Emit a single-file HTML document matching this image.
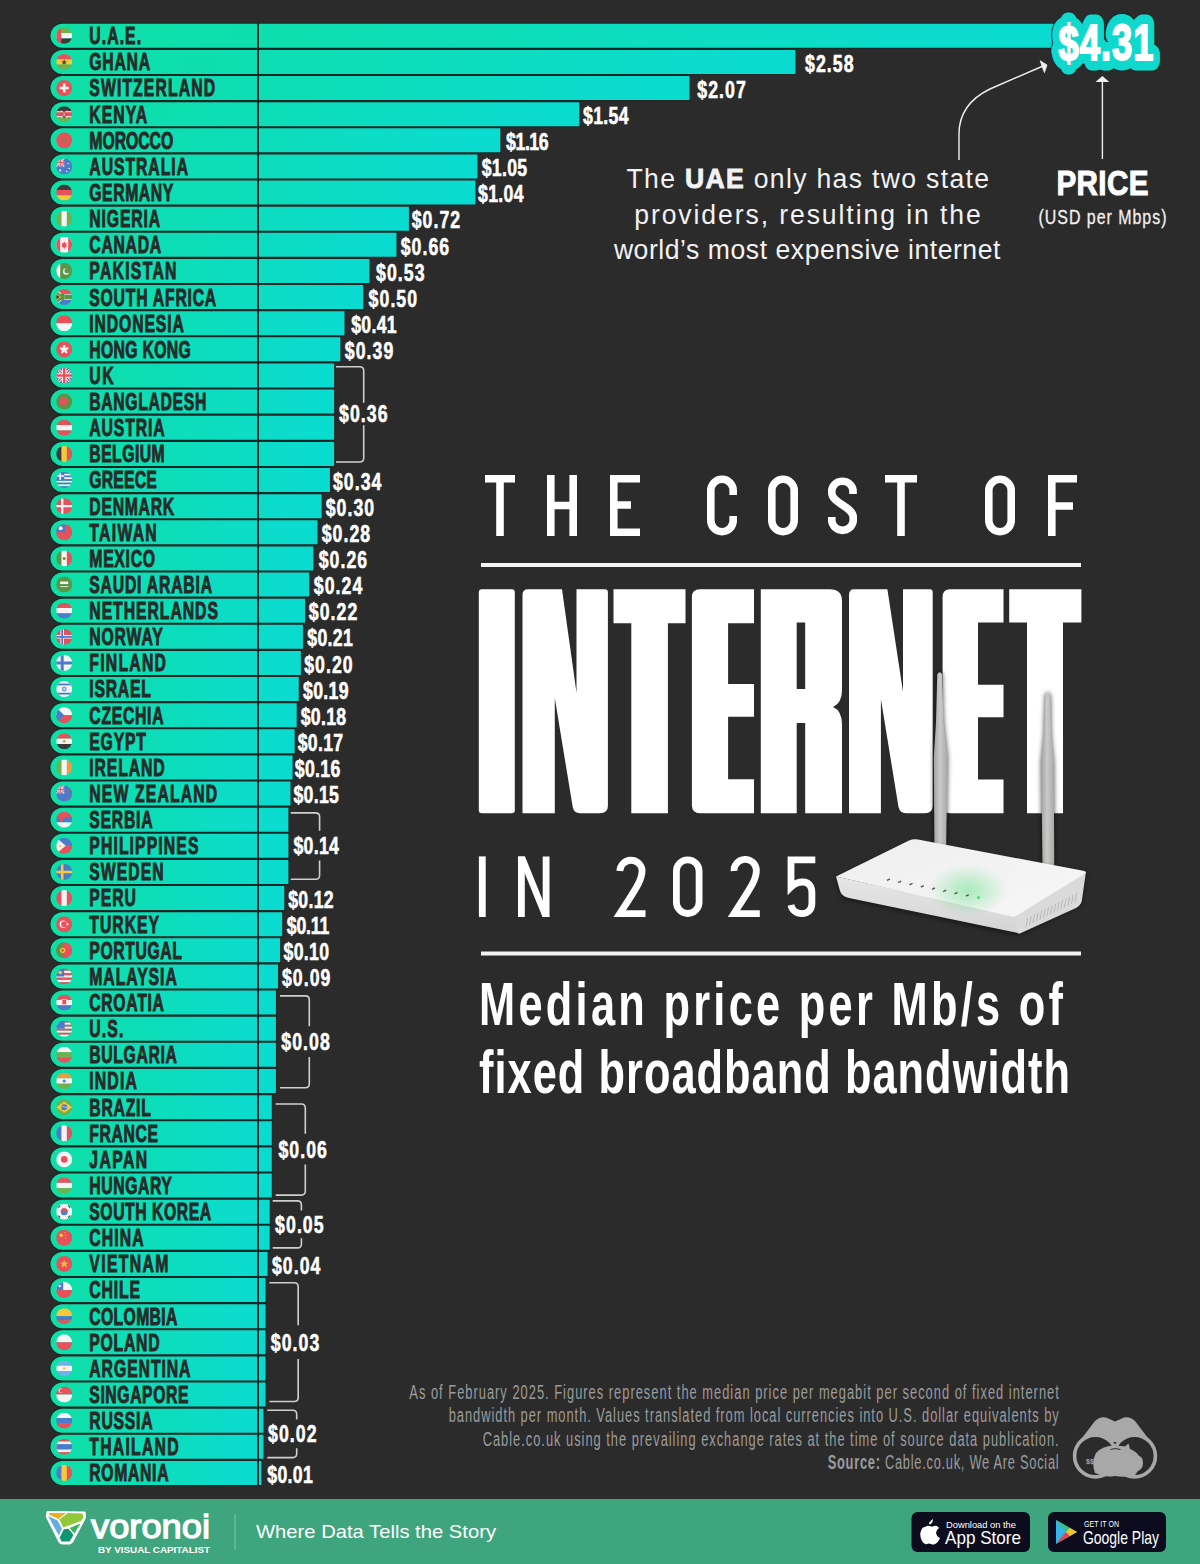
<!DOCTYPE html><html><head><meta charset="utf-8"><style>html,body{margin:0;padding:0;background:#2b2b2b;width:1200px;height:1564px;overflow:hidden}svg{display:block}</style></head><body><svg width="1200" height="1564" viewBox="0 0 1200 1564" font-family="'Liberation Sans', sans-serif"><defs><linearGradient id="bg" x1="0" x2="1" y1="0" y2="0"><stop offset="0" stop-color="#0fdfa5"/><stop offset="1" stop-color="#0adbd2"/></linearGradient><clipPath id="fc"><circle cx="0" cy="0" r="8"/></clipPath></defs><rect width="1200" height="1564" fill="#2b2b2b"/><path d="M62.5,22.70H1063.10V48.90H62.5A13.1,13.1 0 0 1 62.5,22.70Z" fill="#1b2724"/><path d="M62.5,48.83H796.52V75.03H62.5A13.1,13.1 0 0 1 62.5,48.83Z" fill="#1b2724"/><path d="M62.5,74.96H690.55V101.16H62.5A13.1,13.1 0 0 1 62.5,74.96Z" fill="#1b2724"/><path d="M62.5,101.09H580.41V127.29H62.5A13.1,13.1 0 0 1 62.5,101.09Z" fill="#1b2724"/><path d="M62.5,127.22H501.45V153.42H62.5A13.1,13.1 0 0 1 62.5,127.22Z" fill="#1b2724"/><path d="M62.5,153.35H478.59V179.55H62.5A13.1,13.1 0 0 1 62.5,153.35Z" fill="#1b2724"/><path d="M62.5,179.48H476.51V205.68H62.5A13.1,13.1 0 0 1 62.5,179.48Z" fill="#1b2724"/><path d="M62.5,205.61H410.02V231.81H62.5A13.1,13.1 0 0 1 62.5,205.61Z" fill="#1b2724"/><path d="M62.5,231.74H397.55V257.94H62.5A13.1,13.1 0 0 1 62.5,231.74Z" fill="#1b2724"/><path d="M62.5,257.87H370.53V284.07H62.5A13.1,13.1 0 0 1 62.5,257.87Z" fill="#1b2724"/><path d="M62.5,284.00H364.30V310.20H62.5A13.1,13.1 0 0 1 62.5,284.00Z" fill="#1b2724"/><path d="M62.5,310.13H345.60V336.33H62.5A13.1,13.1 0 0 1 62.5,310.13Z" fill="#1b2724"/><path d="M62.5,336.26H341.44V362.46H62.5A13.1,13.1 0 0 1 62.5,336.26Z" fill="#1b2724"/><path d="M62.5,362.39H335.21V388.59H62.5A13.1,13.1 0 0 1 62.5,362.39Z" fill="#1b2724"/><path d="M62.5,388.52H335.21V414.72H62.5A13.1,13.1 0 0 1 62.5,388.52Z" fill="#1b2724"/><path d="M62.5,414.65H335.21V440.85H62.5A13.1,13.1 0 0 1 62.5,414.65Z" fill="#1b2724"/><path d="M62.5,440.78H335.21V466.98H62.5A13.1,13.1 0 0 1 62.5,440.78Z" fill="#1b2724"/><path d="M62.5,466.91H331.05V493.11H62.5A13.1,13.1 0 0 1 62.5,466.91Z" fill="#1b2724"/><path d="M62.5,493.04H322.74V519.24H62.5A13.1,13.1 0 0 1 62.5,493.04Z" fill="#1b2724"/><path d="M62.5,519.17H318.58V545.37H62.5A13.1,13.1 0 0 1 62.5,519.17Z" fill="#1b2724"/><path d="M62.5,545.30H314.43V571.50H62.5A13.1,13.1 0 0 1 62.5,545.30Z" fill="#1b2724"/><path d="M62.5,571.43H310.27V597.63H62.5A13.1,13.1 0 0 1 62.5,571.43Z" fill="#1b2724"/><path d="M62.5,597.56H306.12V623.76H62.5A13.1,13.1 0 0 1 62.5,597.56Z" fill="#1b2724"/><path d="M62.5,623.69H304.04V649.89H62.5A13.1,13.1 0 0 1 62.5,623.69Z" fill="#1b2724"/><path d="M62.5,649.82H301.96V676.02H62.5A13.1,13.1 0 0 1 62.5,649.82Z" fill="#1b2724"/><path d="M62.5,675.95H299.88V702.15H62.5A13.1,13.1 0 0 1 62.5,675.95Z" fill="#1b2724"/><path d="M62.5,702.08H297.80V728.28H62.5A13.1,13.1 0 0 1 62.5,702.08Z" fill="#1b2724"/><path d="M62.5,728.21H295.73V754.41H62.5A13.1,13.1 0 0 1 62.5,728.21Z" fill="#1b2724"/><path d="M62.5,754.34H293.65V780.54H62.5A13.1,13.1 0 0 1 62.5,754.34Z" fill="#1b2724"/><path d="M62.5,780.47H291.57V806.67H62.5A13.1,13.1 0 0 1 62.5,780.47Z" fill="#1b2724"/><path d="M62.5,806.60H289.49V832.80H62.5A13.1,13.1 0 0 1 62.5,806.60Z" fill="#1b2724"/><path d="M62.5,832.73H289.49V858.93H62.5A13.1,13.1 0 0 1 62.5,832.73Z" fill="#1b2724"/><path d="M62.5,858.86H289.49V885.06H62.5A13.1,13.1 0 0 1 62.5,858.86Z" fill="#1b2724"/><path d="M62.5,884.99H285.34V911.19H62.5A13.1,13.1 0 0 1 62.5,884.99Z" fill="#1b2724"/><path d="M62.5,911.12H283.26V937.32H62.5A13.1,13.1 0 0 1 62.5,911.12Z" fill="#1b2724"/><path d="M62.5,937.25H281.18V963.45H62.5A13.1,13.1 0 0 1 62.5,937.25Z" fill="#1b2724"/><path d="M62.5,963.38H279.10V989.58H62.5A13.1,13.1 0 0 1 62.5,963.38Z" fill="#1b2724"/><path d="M62.5,989.51H277.02V1015.71H62.5A13.1,13.1 0 0 1 62.5,989.51Z" fill="#1b2724"/><path d="M62.5,1015.64H277.02V1041.84H62.5A13.1,13.1 0 0 1 62.5,1015.64Z" fill="#1b2724"/><path d="M62.5,1041.77H277.02V1067.97H62.5A13.1,13.1 0 0 1 62.5,1041.77Z" fill="#1b2724"/><path d="M62.5,1067.90H277.02V1094.10H62.5A13.1,13.1 0 0 1 62.5,1067.90Z" fill="#1b2724"/><path d="M62.5,1094.03H272.87V1120.23H62.5A13.1,13.1 0 0 1 62.5,1094.03Z" fill="#1b2724"/><path d="M62.5,1120.16H272.87V1146.36H62.5A13.1,13.1 0 0 1 62.5,1120.16Z" fill="#1b2724"/><path d="M62.5,1146.29H272.87V1172.49H62.5A13.1,13.1 0 0 1 62.5,1146.29Z" fill="#1b2724"/><path d="M62.5,1172.42H272.87V1198.62H62.5A13.1,13.1 0 0 1 62.5,1172.42Z" fill="#1b2724"/><path d="M62.5,1198.55H270.79V1224.75H62.5A13.1,13.1 0 0 1 62.5,1198.55Z" fill="#1b2724"/><path d="M62.5,1224.68H270.79V1250.88H62.5A13.1,13.1 0 0 1 62.5,1224.68Z" fill="#1b2724"/><path d="M62.5,1250.81H268.71V1277.01H62.5A13.1,13.1 0 0 1 62.5,1250.81Z" fill="#1b2724"/><path d="M62.5,1276.94H266.63V1303.14H62.5A13.1,13.1 0 0 1 62.5,1276.94Z" fill="#1b2724"/><path d="M62.5,1303.07H266.63V1329.27H62.5A13.1,13.1 0 0 1 62.5,1303.07Z" fill="#1b2724"/><path d="M62.5,1329.20H266.63V1355.40H62.5A13.1,13.1 0 0 1 62.5,1329.20Z" fill="#1b2724"/><path d="M62.5,1355.33H266.63V1381.53H62.5A13.1,13.1 0 0 1 62.5,1355.33Z" fill="#1b2724"/><path d="M62.5,1381.46H266.63V1407.66H62.5A13.1,13.1 0 0 1 62.5,1381.46Z" fill="#1b2724"/><path d="M62.5,1407.59H264.56V1433.79H62.5A13.1,13.1 0 0 1 62.5,1407.59Z" fill="#1b2724"/><path d="M62.5,1433.72H264.56V1459.92H62.5A13.1,13.1 0 0 1 62.5,1433.72Z" fill="#1b2724"/><path d="M62.5,1459.85H262.48V1486.05H62.5A13.1,13.1 0 0 1 62.5,1459.85Z" fill="#1b2724"/><path d="M62.5,23.80H1062.00V47.80H62.5A12,12 0 0 1 62.5,23.80Z" fill="url(#bg)"/><path d="M62.5,49.93H795.42V73.93H62.5A12,12 0 0 1 62.5,49.93Z" fill="url(#bg)"/><path d="M62.5,76.06H689.45V100.06H62.5A12,12 0 0 1 62.5,76.06Z" fill="url(#bg)"/><path d="M62.5,102.19H579.31V126.19H62.5A12,12 0 0 1 62.5,102.19Z" fill="url(#bg)"/><path d="M62.5,128.32H500.35V152.32H62.5A12,12 0 0 1 62.5,128.32Z" fill="url(#bg)"/><path d="M62.5,154.45H477.49V178.45H62.5A12,12 0 0 1 62.5,154.45Z" fill="url(#bg)"/><path d="M62.5,180.58H475.41V204.58H62.5A12,12 0 0 1 62.5,180.58Z" fill="url(#bg)"/><path d="M62.5,206.71H408.92V230.71H62.5A12,12 0 0 1 62.5,206.71Z" fill="url(#bg)"/><path d="M62.5,232.84H396.45V256.84H62.5A12,12 0 0 1 62.5,232.84Z" fill="url(#bg)"/><path d="M62.5,258.97H369.43V282.97H62.5A12,12 0 0 1 62.5,258.97Z" fill="url(#bg)"/><path d="M62.5,285.10H363.20V309.10H62.5A12,12 0 0 1 62.5,285.10Z" fill="url(#bg)"/><path d="M62.5,311.23H344.50V335.23H62.5A12,12 0 0 1 62.5,311.23Z" fill="url(#bg)"/><path d="M62.5,337.36H340.34V361.36H62.5A12,12 0 0 1 62.5,337.36Z" fill="url(#bg)"/><path d="M62.5,363.49H334.11V387.49H62.5A12,12 0 0 1 62.5,363.49Z" fill="url(#bg)"/><path d="M62.5,389.62H334.11V413.62H62.5A12,12 0 0 1 62.5,389.62Z" fill="url(#bg)"/><path d="M62.5,415.75H334.11V439.75H62.5A12,12 0 0 1 62.5,415.75Z" fill="url(#bg)"/><path d="M62.5,441.88H334.11V465.88H62.5A12,12 0 0 1 62.5,441.88Z" fill="url(#bg)"/><path d="M62.5,468.01H329.95V492.01H62.5A12,12 0 0 1 62.5,468.01Z" fill="url(#bg)"/><path d="M62.5,494.14H321.64V518.14H62.5A12,12 0 0 1 62.5,494.14Z" fill="url(#bg)"/><path d="M62.5,520.27H317.48V544.27H62.5A12,12 0 0 1 62.5,520.27Z" fill="url(#bg)"/><path d="M62.5,546.40H313.33V570.40H62.5A12,12 0 0 1 62.5,546.40Z" fill="url(#bg)"/><path d="M62.5,572.53H309.17V596.53H62.5A12,12 0 0 1 62.5,572.53Z" fill="url(#bg)"/><path d="M62.5,598.66H305.02V622.66H62.5A12,12 0 0 1 62.5,598.66Z" fill="url(#bg)"/><path d="M62.5,624.79H302.94V648.79H62.5A12,12 0 0 1 62.5,624.79Z" fill="url(#bg)"/><path d="M62.5,650.92H300.86V674.92H62.5A12,12 0 0 1 62.5,650.92Z" fill="url(#bg)"/><path d="M62.5,677.05H298.78V701.05H62.5A12,12 0 0 1 62.5,677.05Z" fill="url(#bg)"/><path d="M62.5,703.18H296.70V727.18H62.5A12,12 0 0 1 62.5,703.18Z" fill="url(#bg)"/><path d="M62.5,729.31H294.63V753.31H62.5A12,12 0 0 1 62.5,729.31Z" fill="url(#bg)"/><path d="M62.5,755.44H292.55V779.44H62.5A12,12 0 0 1 62.5,755.44Z" fill="url(#bg)"/><path d="M62.5,781.57H290.47V805.57H62.5A12,12 0 0 1 62.5,781.57Z" fill="url(#bg)"/><path d="M62.5,807.70H288.39V831.70H62.5A12,12 0 0 1 62.5,807.70Z" fill="url(#bg)"/><path d="M62.5,833.83H288.39V857.83H62.5A12,12 0 0 1 62.5,833.83Z" fill="url(#bg)"/><path d="M62.5,859.96H288.39V883.96H62.5A12,12 0 0 1 62.5,859.96Z" fill="url(#bg)"/><path d="M62.5,886.09H284.24V910.09H62.5A12,12 0 0 1 62.5,886.09Z" fill="url(#bg)"/><path d="M62.5,912.22H282.16V936.22H62.5A12,12 0 0 1 62.5,912.22Z" fill="url(#bg)"/><path d="M62.5,938.35H280.08V962.35H62.5A12,12 0 0 1 62.5,938.35Z" fill="url(#bg)"/><path d="M62.5,964.48H278.00V988.48H62.5A12,12 0 0 1 62.5,964.48Z" fill="url(#bg)"/><path d="M62.5,990.61H275.92V1014.61H62.5A12,12 0 0 1 62.5,990.61Z" fill="url(#bg)"/><path d="M62.5,1016.74H275.92V1040.74H62.5A12,12 0 0 1 62.5,1016.74Z" fill="url(#bg)"/><path d="M62.5,1042.87H275.92V1066.87H62.5A12,12 0 0 1 62.5,1042.87Z" fill="url(#bg)"/><path d="M62.5,1069.00H275.92V1093.00H62.5A12,12 0 0 1 62.5,1069.00Z" fill="url(#bg)"/><path d="M62.5,1095.13H271.77V1119.13H62.5A12,12 0 0 1 62.5,1095.13Z" fill="url(#bg)"/><path d="M62.5,1121.26H271.77V1145.26H62.5A12,12 0 0 1 62.5,1121.26Z" fill="url(#bg)"/><path d="M62.5,1147.39H271.77V1171.39H62.5A12,12 0 0 1 62.5,1147.39Z" fill="url(#bg)"/><path d="M62.5,1173.52H271.77V1197.52H62.5A12,12 0 0 1 62.5,1173.52Z" fill="url(#bg)"/><path d="M62.5,1199.65H269.69V1223.65H62.5A12,12 0 0 1 62.5,1199.65Z" fill="url(#bg)"/><path d="M62.5,1225.78H269.69V1249.78H62.5A12,12 0 0 1 62.5,1225.78Z" fill="url(#bg)"/><path d="M62.5,1251.91H267.61V1275.91H62.5A12,12 0 0 1 62.5,1251.91Z" fill="url(#bg)"/><path d="M62.5,1278.04H265.53V1302.04H62.5A12,12 0 0 1 62.5,1278.04Z" fill="url(#bg)"/><path d="M62.5,1304.17H265.53V1328.17H62.5A12,12 0 0 1 62.5,1304.17Z" fill="url(#bg)"/><path d="M62.5,1330.30H265.53V1354.30H62.5A12,12 0 0 1 62.5,1330.30Z" fill="url(#bg)"/><path d="M62.5,1356.43H265.53V1380.43H62.5A12,12 0 0 1 62.5,1356.43Z" fill="url(#bg)"/><path d="M62.5,1382.56H265.53V1406.56H62.5A12,12 0 0 1 62.5,1382.56Z" fill="url(#bg)"/><path d="M62.5,1408.69H263.46V1432.69H62.5A12,12 0 0 1 62.5,1408.69Z" fill="url(#bg)"/><path d="M62.5,1434.82H263.46V1458.82H62.5A12,12 0 0 1 62.5,1434.82Z" fill="url(#bg)"/><path d="M62.5,1460.95H261.38V1484.95H62.5A12,12 0 0 1 62.5,1460.95Z" fill="url(#bg)"/><rect x="257.2" y="23" width="1.8" height="1463" fill="#1b2724"/><g transform="translate(64.2,35.80)" clip-path="url(#fc)"><rect x="-8" y="-8.00" width="16" height="5.38" fill="#72b04f"/><rect x="-8" y="-2.67" width="16" height="5.38" fill="#f4f4f4"/><rect x="-8" y="2.67" width="16" height="5.38" fill="#3a3a3a"/><rect x="-8" y="-8" width="5" height="16" fill="#e8505b"/></g><text transform="translate(89.30,44.20) scale(0.64,1)" font-size="24.6" textLength="80.94" lengthAdjust="spacing" font-weight="700" fill="#262a28" stroke="#262a28" stroke-width="1.0">U.A.E.</text><g transform="translate(64.2,61.93)" clip-path="url(#fc)"><rect x="-8" y="-8.00" width="16" height="5.38" fill="#e8505b"/><rect x="-8" y="-2.67" width="16" height="5.38" fill="#f6c83a"/><rect x="-8" y="2.67" width="16" height="5.38" fill="#72b04f"/><path d="M0,-2.6L0.8,-0.5L2.9,-0.5L1.2,0.8L1.8,2.8L0,1.6L-1.8,2.8L-1.2,0.8L-2.9,-0.5L-0.8,-0.5Z" fill="#3a3a3a"/></g><text transform="translate(89.30,70.33) scale(0.64,1)" font-size="24.6" textLength="95.00" lengthAdjust="spacing" font-weight="700" fill="#262a28" stroke="#262a28" stroke-width="1.0">GHANA</text><text transform="translate(805.00,71.63) scale(0.72,1)" font-size="24.6" textLength="67.36" lengthAdjust="spacing" font-weight="700" fill="#ffffff" stroke="#ffffff" stroke-width="0.6">$2.58</text><g transform="translate(64.2,88.06)" clip-path="url(#fc)"><rect x="-8" y="-8" width="16" height="16" fill="#e8505b"/><path d="M-1.3,-4.5h2.6v3.2h3.2v2.6h-3.2v3.2h-2.6v-3.2h-3.2v-2.6h3.2z" fill="#f4f4f4"/></g><text transform="translate(89.30,96.46) scale(0.64,1)" font-size="24.6" textLength="196.41" lengthAdjust="spacing" font-weight="700" fill="#262a28" stroke="#262a28" stroke-width="1.0">SWITZERLAND</text><text transform="translate(697.30,97.76) scale(0.72,1)" font-size="24.6" textLength="67.36" lengthAdjust="spacing" font-weight="700" fill="#ffffff" stroke="#ffffff" stroke-width="0.6">$2.07</text><g transform="translate(64.2,114.19)" clip-path="url(#fc)"><rect x="-8" y="-8.00" width="16" height="5.38" fill="#3a3a3a"/><rect x="-8" y="-2.67" width="16" height="5.38" fill="#e8505b"/><rect x="-8" y="2.67" width="16" height="5.38" fill="#72b04f"/><rect x="-8" y="-2.9" width="16" height="0.9" fill="#f4f4f4"/><rect x="-8" y="2" width="16" height="0.9" fill="#f4f4f4"/><ellipse cx="0" cy="0" rx="1.5" ry="3.6" fill="#e8505b" stroke="#3a3a3a" stroke-width="0.6"/><path d="M-3,-4L3,4M3,-4L-3,4" stroke="#f4f4f4" stroke-width="0.5"/></g><text transform="translate(89.30,122.59) scale(0.64,1)" font-size="24.6" textLength="90.47" lengthAdjust="spacing" font-weight="700" fill="#262a28" stroke="#262a28" stroke-width="1.0">KENYA</text><text transform="translate(583.00,123.89) scale(0.72,1)" font-size="24.6" textLength="63.19" lengthAdjust="spacing" font-weight="700" fill="#ffffff" stroke="#ffffff" stroke-width="0.6">$1.54</text><g transform="translate(64.2,140.32)" clip-path="url(#fc)"><rect x="-8" y="-8" width="16" height="16" fill="#e8505b"/><circle cx="0" cy="0" r="2" fill="none" stroke="#5c9546" stroke-width="0.8"/></g><text transform="translate(89.30,148.72) scale(0.64,1)" font-size="24.6" textLength="131.09" lengthAdjust="spacing" font-weight="700" fill="#262a28" stroke="#262a28" stroke-width="1.0">MOROCCO</text><text transform="translate(506.10,150.02) scale(0.72,1)" font-size="24.6" textLength="59.03" lengthAdjust="spacing" font-weight="700" fill="#ffffff" stroke="#ffffff" stroke-width="0.6">$1.16</text><g transform="translate(64.2,166.45)" clip-path="url(#fc)"><rect x="-8" y="-8" width="16" height="16" fill="#4a7ccb"/><g transform="translate(-4,-4) scale(0.5)"><g transform="scale(1.0)"><rect x="-8" y="-8" width="16" height="16" fill="#4a7ccb"/><path d="M-8,-8L8,8M8,-8L-8,8" stroke="#f4f4f4" stroke-width="3"/><path d="M-8,-8L8,8M8,-8L-8,8" stroke="#e8505b" stroke-width="1.2"/><path d="M0,-8V8M-8,0H8" stroke="#f4f4f4" stroke-width="4.4"/><path d="M0,-8V8M-8,0H8" stroke="#e8505b" stroke-width="2.4"/></g></g><circle cx="4" cy="-3" r="0.8" fill="#f4f4f4"/><circle cx="5" cy="2" r="0.8" fill="#f4f4f4"/><circle cx="2.5" cy="5" r="0.8" fill="#f4f4f4"/><circle cx="-4" cy="4" r="1.1" fill="#f4f4f4"/></g><text transform="translate(89.30,174.85) scale(0.64,1)" font-size="24.6" textLength="154.22" lengthAdjust="spacing" font-weight="700" fill="#262a28" stroke="#262a28" stroke-width="1.0">AUSTRALIA</text><text transform="translate(481.70,176.15) scale(0.72,1)" font-size="24.6" textLength="63.19" lengthAdjust="spacing" font-weight="700" fill="#ffffff" stroke="#ffffff" stroke-width="0.6">$1.05</text><g transform="translate(64.2,192.58)" clip-path="url(#fc)"><rect x="-8" y="-8.00" width="16" height="5.38" fill="#3a3a3a"/><rect x="-8" y="-2.67" width="16" height="5.38" fill="#e8505b"/><rect x="-8" y="2.67" width="16" height="5.38" fill="#f6c83a"/></g><text transform="translate(89.30,200.98) scale(0.64,1)" font-size="24.6" textLength="131.09" lengthAdjust="spacing" font-weight="700" fill="#262a28" stroke="#262a28" stroke-width="1.0">GERMANY</text><text transform="translate(478.00,202.28) scale(0.72,1)" font-size="24.6" textLength="63.19" lengthAdjust="spacing" font-weight="700" fill="#ffffff" stroke="#ffffff" stroke-width="0.6">$1.04</text><g transform="translate(64.2,218.71)" clip-path="url(#fc)"><rect x="-8.00" y="-8" width="5.38" height="16" fill="#72b04f"/><rect x="-2.67" y="-8" width="5.38" height="16" fill="#f4f4f4"/><rect x="2.67" y="-8" width="5.38" height="16" fill="#72b04f"/></g><text transform="translate(89.30,227.11) scale(0.64,1)" font-size="24.6" textLength="110.62" lengthAdjust="spacing" font-weight="700" fill="#262a28" stroke="#262a28" stroke-width="1.0">NIGERIA</text><text transform="translate(411.70,228.41) scale(0.72,1)" font-size="24.6" textLength="67.36" lengthAdjust="spacing" font-weight="700" fill="#ffffff" stroke="#ffffff" stroke-width="0.6">$0.72</text><g transform="translate(64.2,244.84)" clip-path="url(#fc)"><rect x="-8" y="-8" width="16" height="16" fill="#f4f4f4"/><rect x="-8" y="-8" width="4" height="16" fill="#e8505b"/><rect x="4" y="-8" width="4" height="16" fill="#e8505b"/><path d="M0,-3.5L1,-1.5L2.5,-2L2,1L3,1.5L0.4,2.8V4.5H-0.4V2.8L-3,1.5L-2,1L-2.5,-2L-1,-1.5Z" fill="#e8505b"/></g><text transform="translate(89.30,253.24) scale(0.64,1)" font-size="24.6" textLength="112.19" lengthAdjust="spacing" font-weight="700" fill="#262a28" stroke="#262a28" stroke-width="1.0">CANADA</text><text transform="translate(400.70,254.54) scale(0.72,1)" font-size="24.6" textLength="67.36" lengthAdjust="spacing" font-weight="700" fill="#ffffff" stroke="#ffffff" stroke-width="0.6">$0.66</text><g transform="translate(64.2,270.97)" clip-path="url(#fc)"><rect x="-8" y="-8" width="16" height="16" fill="#5c9546"/><rect x="-8" y="-8" width="4" height="16" fill="#f4f4f4"/><circle cx="2" cy="0.5" r="3.2" fill="#f4f4f4"/><circle cx="3" cy="-0.3" r="2.7" fill="#5c9546"/></g><text transform="translate(89.30,279.37) scale(0.64,1)" font-size="24.6" textLength="136.09" lengthAdjust="spacing" font-weight="700" fill="#262a28" stroke="#262a28" stroke-width="1.0">PAKISTAN</text><text transform="translate(376.00,280.67) scale(0.72,1)" font-size="24.6" textLength="67.36" lengthAdjust="spacing" font-weight="700" fill="#ffffff" stroke="#ffffff" stroke-width="0.6">$0.53</text><g transform="translate(64.2,297.10)" clip-path="url(#fc)"><rect x="-8" y="-8.00" width="16" height="5.38" fill="#e8505b"/><rect x="-8" y="-2.67" width="16" height="5.38" fill="#f4f4f4"/><rect x="-8" y="2.67" width="16" height="5.38" fill="#4a7ccb"/><path d="M-8,-8L1,0L-8,8Z" fill="#f4f4f4"/><path d="M-8,-3H0V3H-8Z" fill="#5c9546"/><path d="M-8,-6.5L0,0.5L-8,6.5Z" fill="#5c9546"/><path d="M-8,-3.5L-3,0L-8,3.5Z" fill="#f6c83a"/><path d="M-8,-2.5L-4.4,0L-8,2.5Z" fill="#3a3a3a"/><path d="M0,-2H8V2H0Z" fill="#5c9546"/></g><text transform="translate(89.30,305.50) scale(0.64,1)" font-size="24.6" textLength="198.28" lengthAdjust="spacing" font-weight="700" fill="#262a28" stroke="#262a28" stroke-width="1.0">SOUTH AFRICA</text><text transform="translate(368.60,306.80) scale(0.72,1)" font-size="24.6" textLength="67.36" lengthAdjust="spacing" font-weight="700" fill="#ffffff" stroke="#ffffff" stroke-width="0.6">$0.50</text><g transform="translate(64.2,323.23)" clip-path="url(#fc)"><rect x="-8" y="-8.00" width="16" height="8.05" fill="#e8505b"/><rect x="-8" y="0.00" width="16" height="8.05" fill="#f4f4f4"/></g><text transform="translate(89.30,331.63) scale(0.64,1)" font-size="24.6" textLength="147.81" lengthAdjust="spacing" font-weight="700" fill="#262a28" stroke="#262a28" stroke-width="1.0">INDONESIA</text><text transform="translate(351.20,332.93) scale(0.72,1)" font-size="24.6" textLength="63.19" lengthAdjust="spacing" font-weight="700" fill="#ffffff" stroke="#ffffff" stroke-width="0.6">$0.41</text><g transform="translate(64.2,349.36)" clip-path="url(#fc)"><rect x="-8" y="-8" width="16" height="16" fill="#e8505b"/><ellipse cx="0" cy="-2.3" rx="1.3" ry="2.4" fill="#f4f4f4" transform="rotate(0)"/><ellipse cx="0" cy="-2.3" rx="1.3" ry="2.4" fill="#f4f4f4" transform="rotate(72)"/><ellipse cx="0" cy="-2.3" rx="1.3" ry="2.4" fill="#f4f4f4" transform="rotate(144)"/><ellipse cx="0" cy="-2.3" rx="1.3" ry="2.4" fill="#f4f4f4" transform="rotate(216)"/><ellipse cx="0" cy="-2.3" rx="1.3" ry="2.4" fill="#f4f4f4" transform="rotate(288)"/></g><text transform="translate(89.30,357.76) scale(0.64,1)" font-size="24.6" textLength="158.59" lengthAdjust="spacing" font-weight="700" fill="#262a28" stroke="#262a28" stroke-width="1.0">HONG KONG</text><text transform="translate(344.75,359.06) scale(0.72,1)" font-size="24.6" textLength="67.36" lengthAdjust="spacing" font-weight="700" fill="#ffffff" stroke="#ffffff" stroke-width="0.6">$0.39</text><g transform="translate(64.2,375.49)" clip-path="url(#fc)"><g transform="scale(1.0)"><rect x="-8" y="-8" width="16" height="16" fill="#4a7ccb"/><path d="M-8,-8L8,8M8,-8L-8,8" stroke="#f4f4f4" stroke-width="3"/><path d="M-8,-8L8,8M8,-8L-8,8" stroke="#e8505b" stroke-width="1.2"/><path d="M0,-8V8M-8,0H8" stroke="#f4f4f4" stroke-width="4.4"/><path d="M0,-8V8M-8,0H8" stroke="#e8505b" stroke-width="2.4"/></g></g><text transform="translate(89.30,383.89) scale(0.64,1)" font-size="24.6" textLength="37.97" lengthAdjust="spacing" font-weight="700" fill="#262a28" stroke="#262a28" stroke-width="1.0">UK</text><g transform="translate(64.2,401.62)" clip-path="url(#fc)"><rect x="-8" y="-8" width="16" height="16" fill="#5c9546"/><circle cx="-1" cy="0" r="4" fill="#e8505b"/></g><text transform="translate(89.30,410.02) scale(0.64,1)" font-size="24.6" textLength="182.81" lengthAdjust="spacing" font-weight="700" fill="#262a28" stroke="#262a28" stroke-width="1.0">BANGLADESH</text><g transform="translate(64.2,427.75)" clip-path="url(#fc)"><rect x="-8" y="-8.00" width="16" height="5.38" fill="#e8505b"/><rect x="-8" y="-2.67" width="16" height="5.38" fill="#f4f4f4"/><rect x="-8" y="2.67" width="16" height="5.38" fill="#e8505b"/></g><text transform="translate(89.30,436.15) scale(0.64,1)" font-size="24.6" textLength="117.81" lengthAdjust="spacing" font-weight="700" fill="#262a28" stroke="#262a28" stroke-width="1.0">AUSTRIA</text><g transform="translate(64.2,453.88)" clip-path="url(#fc)"><rect x="-8.00" y="-8" width="5.38" height="16" fill="#3a3a3a"/><rect x="-2.67" y="-8" width="5.38" height="16" fill="#f6c83a"/><rect x="2.67" y="-8" width="5.38" height="16" fill="#e8505b"/></g><text transform="translate(89.30,462.28) scale(0.64,1)" font-size="24.6" textLength="117.81" lengthAdjust="spacing" font-weight="700" fill="#262a28" stroke="#262a28" stroke-width="1.0">BELGIUM</text><g transform="translate(64.2,480.01)" clip-path="url(#fc)"><rect x="-8" y="-8.00" width="16" height="1.83" fill="#4a7ccb"/><rect x="-8" y="-6.22" width="16" height="1.83" fill="#f4f4f4"/><rect x="-8" y="-4.44" width="16" height="1.83" fill="#4a7ccb"/><rect x="-8" y="-2.67" width="16" height="1.83" fill="#f4f4f4"/><rect x="-8" y="-0.89" width="16" height="1.83" fill="#4a7ccb"/><rect x="-8" y="0.89" width="16" height="1.83" fill="#f4f4f4"/><rect x="-8" y="2.67" width="16" height="1.83" fill="#4a7ccb"/><rect x="-8" y="4.44" width="16" height="1.83" fill="#f4f4f4"/><rect x="-8" y="6.22" width="16" height="1.83" fill="#4a7ccb"/><rect x="-8" y="-8" width="8" height="8" fill="#4a7ccb"/><path d="M-4,-8V0M-8,-4H0" stroke="#f4f4f4" stroke-width="1.6"/></g><text transform="translate(89.30,488.41) scale(0.64,1)" font-size="24.6" textLength="105.31" lengthAdjust="spacing" font-weight="700" fill="#262a28" stroke="#262a28" stroke-width="1.0">GREECE</text><text transform="translate(332.90,489.71) scale(0.72,1)" font-size="24.6" textLength="67.36" lengthAdjust="spacing" font-weight="700" fill="#ffffff" stroke="#ffffff" stroke-width="0.6">$0.34</text><g transform="translate(64.2,506.14)" clip-path="url(#fc)"><rect x="-8" y="-8" width="16" height="16" fill="#e8505b"/><path d="M-2,-8V8M-8,0H8" stroke="#f4f4f4" stroke-width="2.4"/></g><text transform="translate(89.30,514.54) scale(0.64,1)" font-size="24.6" textLength="132.66" lengthAdjust="spacing" font-weight="700" fill="#262a28" stroke="#262a28" stroke-width="1.0">DENMARK</text><text transform="translate(325.70,515.84) scale(0.72,1)" font-size="24.6" textLength="67.36" lengthAdjust="spacing" font-weight="700" fill="#ffffff" stroke="#ffffff" stroke-width="0.6">$0.30</text><g transform="translate(64.2,532.27)" clip-path="url(#fc)"><rect x="-8" y="-8" width="16" height="16" fill="#e8505b"/><rect x="-8" y="-8" width="9" height="8" fill="#4a7ccb"/><circle cx="-3.5" cy="-4" r="2" fill="#f4f4f4"/></g><text transform="translate(89.30,540.67) scale(0.64,1)" font-size="24.6" textLength="105.31" lengthAdjust="spacing" font-weight="700" fill="#262a28" stroke="#262a28" stroke-width="1.0">TAIWAN</text><text transform="translate(321.70,541.97) scale(0.72,1)" font-size="24.6" textLength="67.36" lengthAdjust="spacing" font-weight="700" fill="#ffffff" stroke="#ffffff" stroke-width="0.6">$0.28</text><g transform="translate(64.2,558.40)" clip-path="url(#fc)"><rect x="-8.00" y="-8" width="5.38" height="16" fill="#5c9546"/><rect x="-2.67" y="-8" width="5.38" height="16" fill="#f4f4f4"/><rect x="2.67" y="-8" width="5.38" height="16" fill="#e8505b"/><circle cx="0" cy="0" r="1.5" fill="#9a7a3a"/></g><text transform="translate(89.30,566.80) scale(0.64,1)" font-size="24.6" textLength="102.66" lengthAdjust="spacing" font-weight="700" fill="#262a28" stroke="#262a28" stroke-width="1.0">MEXICO</text><text transform="translate(318.70,568.10) scale(0.72,1)" font-size="24.6" textLength="67.36" lengthAdjust="spacing" font-weight="700" fill="#ffffff" stroke="#ffffff" stroke-width="0.6">$0.26</text><g transform="translate(64.2,584.53)" clip-path="url(#fc)"><rect x="-8" y="-8" width="16" height="16" fill="#5c9546"/><rect x="-4" y="-3" width="8" height="2.5" fill="#f4f4f4"/><rect x="-4" y="1.5" width="8" height="0.8" fill="#f4f4f4"/></g><text transform="translate(89.30,592.93) scale(0.64,1)" font-size="24.6" textLength="191.72" lengthAdjust="spacing" font-weight="700" fill="#262a28" stroke="#262a28" stroke-width="1.0">SAUDI ARABIA</text><text transform="translate(313.80,594.23) scale(0.72,1)" font-size="24.6" textLength="67.36" lengthAdjust="spacing" font-weight="700" fill="#ffffff" stroke="#ffffff" stroke-width="0.6">$0.24</text><g transform="translate(64.2,610.66)" clip-path="url(#fc)"><rect x="-8" y="-8.00" width="16" height="5.38" fill="#e8505b"/><rect x="-8" y="-2.67" width="16" height="5.38" fill="#f4f4f4"/><rect x="-8" y="2.67" width="16" height="5.38" fill="#4a7ccb"/></g><text transform="translate(89.30,619.06) scale(0.64,1)" font-size="24.6" textLength="200.94" lengthAdjust="spacing" font-weight="700" fill="#262a28" stroke="#262a28" stroke-width="1.0">NETHERLANDS</text><text transform="translate(308.80,620.36) scale(0.72,1)" font-size="24.6" textLength="67.36" lengthAdjust="spacing" font-weight="700" fill="#ffffff" stroke="#ffffff" stroke-width="0.6">$0.22</text><g transform="translate(64.2,636.79)" clip-path="url(#fc)"><rect x="-8" y="-8" width="16" height="16" fill="#e8505b"/><path d="M-2,-8V8M-8,0H8" stroke="#f4f4f4" stroke-width="3.6"/><path d="M-2,-8V8M-8,0H8" stroke="#4a7ccb" stroke-width="1.8"/></g><text transform="translate(89.30,645.19) scale(0.64,1)" font-size="24.6" textLength="114.69" lengthAdjust="spacing" font-weight="700" fill="#262a28" stroke="#262a28" stroke-width="1.0">NORWAY</text><text transform="translate(307.30,646.49) scale(0.72,1)" font-size="24.6" textLength="63.19" lengthAdjust="spacing" font-weight="700" fill="#ffffff" stroke="#ffffff" stroke-width="0.6">$0.21</text><g transform="translate(64.2,662.92)" clip-path="url(#fc)"><rect x="-8" y="-8" width="16" height="16" fill="#f4f4f4"/><path d="M-2,-8V8M-8,0H8" stroke="#4a7ccb" stroke-width="3"/></g><text transform="translate(89.30,671.32) scale(0.64,1)" font-size="24.6" textLength="119.84" lengthAdjust="spacing" font-weight="700" fill="#262a28" stroke="#262a28" stroke-width="1.0">FINLAND</text><text transform="translate(304.20,672.62) scale(0.72,1)" font-size="24.6" textLength="67.36" lengthAdjust="spacing" font-weight="700" fill="#ffffff" stroke="#ffffff" stroke-width="0.6">$0.20</text><g transform="translate(64.2,689.05)" clip-path="url(#fc)"><rect x="-8" y="-8" width="16" height="16" fill="#f4f4f4"/><rect x="-8" y="-5.5" width="16" height="1.8" fill="#4a7ccb"/><rect x="-8" y="3.7" width="16" height="1.8" fill="#4a7ccb"/><path d="M0,-2.5L2.2,1.3H-2.2ZM0,2.5L2.2,-1.3H-2.2Z" fill="none" stroke="#4a7ccb" stroke-width="0.6"/></g><text transform="translate(89.30,697.45) scale(0.64,1)" font-size="24.6" textLength="96.09" lengthAdjust="spacing" font-weight="700" fill="#262a28" stroke="#262a28" stroke-width="1.0">ISRAEL</text><text transform="translate(303.00,698.75) scale(0.72,1)" font-size="24.6" textLength="63.19" lengthAdjust="spacing" font-weight="700" fill="#ffffff" stroke="#ffffff" stroke-width="0.6">$0.19</text><g transform="translate(64.2,715.18)" clip-path="url(#fc)"><rect x="-8" y="-8.00" width="16" height="8.05" fill="#f4f4f4"/><rect x="-8" y="0.00" width="16" height="8.05" fill="#e8505b"/><path d="M-8,-8L0,0L-8,8Z" fill="#4a7ccb"/></g><text transform="translate(89.30,723.58) scale(0.64,1)" font-size="24.6" textLength="116.09" lengthAdjust="spacing" font-weight="700" fill="#262a28" stroke="#262a28" stroke-width="1.0">CZECHIA</text><text transform="translate(300.70,724.88) scale(0.72,1)" font-size="24.6" textLength="63.19" lengthAdjust="spacing" font-weight="700" fill="#ffffff" stroke="#ffffff" stroke-width="0.6">$0.18</text><g transform="translate(64.2,741.31)" clip-path="url(#fc)"><rect x="-8" y="-8.00" width="16" height="5.38" fill="#e8505b"/><rect x="-8" y="-2.67" width="16" height="5.38" fill="#f4f4f4"/><rect x="-8" y="2.67" width="16" height="5.38" fill="#3a3a3a"/><circle cx="0" cy="0" r="1.3" fill="#c8a03a"/></g><text transform="translate(89.30,749.71) scale(0.64,1)" font-size="24.6" textLength="88.44" lengthAdjust="spacing" font-weight="700" fill="#262a28" stroke="#262a28" stroke-width="1.0">EGYPT</text><text transform="translate(297.70,751.01) scale(0.72,1)" font-size="24.6" textLength="63.19" lengthAdjust="spacing" font-weight="700" fill="#ffffff" stroke="#ffffff" stroke-width="0.6">$0.17</text><g transform="translate(64.2,767.44)" clip-path="url(#fc)"><rect x="-8.00" y="-8" width="5.38" height="16" fill="#72b04f"/><rect x="-2.67" y="-8" width="5.38" height="16" fill="#f4f4f4"/><rect x="2.67" y="-8" width="5.38" height="16" fill="#f59a3b"/></g><text transform="translate(89.30,775.84) scale(0.64,1)" font-size="24.6" textLength="117.81" lengthAdjust="spacing" font-weight="700" fill="#262a28" stroke="#262a28" stroke-width="1.0">IRELAND</text><text transform="translate(294.80,777.14) scale(0.72,1)" font-size="24.6" textLength="63.19" lengthAdjust="spacing" font-weight="700" fill="#ffffff" stroke="#ffffff" stroke-width="0.6">$0.16</text><g transform="translate(64.2,793.57)" clip-path="url(#fc)"><rect x="-8" y="-8" width="16" height="16" fill="#4a7ccb"/><g transform="translate(-4,-4) scale(0.5)"><g transform="scale(1.0)"><rect x="-8" y="-8" width="16" height="16" fill="#4a7ccb"/><path d="M-8,-8L8,8M8,-8L-8,8" stroke="#f4f4f4" stroke-width="3"/><path d="M-8,-8L8,8M8,-8L-8,8" stroke="#e8505b" stroke-width="1.2"/><path d="M0,-8V8M-8,0H8" stroke="#f4f4f4" stroke-width="4.4"/><path d="M0,-8V8M-8,0H8" stroke="#e8505b" stroke-width="2.4"/></g></g><circle cx="4" cy="-3" r="0.8" fill="#e8505b"/><circle cx="5.5" cy="1" r="0.8" fill="#e8505b"/><circle cx="3" cy="5" r="0.9" fill="#e8505b"/><circle cx="2" cy="0" r="0.7" fill="#e8505b"/></g><text transform="translate(89.30,801.97) scale(0.64,1)" font-size="24.6" textLength="199.69" lengthAdjust="spacing" font-weight="700" fill="#262a28" stroke="#262a28" stroke-width="1.0">NEW ZEALAND</text><text transform="translate(293.40,803.27) scale(0.72,1)" font-size="24.6" textLength="63.19" lengthAdjust="spacing" font-weight="700" fill="#ffffff" stroke="#ffffff" stroke-width="0.6">$0.15</text><g transform="translate(64.2,819.70)" clip-path="url(#fc)"><rect x="-8" y="-8.00" width="16" height="5.38" fill="#e8505b"/><rect x="-8" y="-2.67" width="16" height="5.38" fill="#4a7ccb"/><rect x="-8" y="2.67" width="16" height="5.38" fill="#f4f4f4"/><rect x="-4.5" y="-3.5" width="3.5" height="5" fill="#e8505b"/></g><text transform="translate(89.30,828.10) scale(0.64,1)" font-size="24.6" textLength="98.91" lengthAdjust="spacing" font-weight="700" fill="#262a28" stroke="#262a28" stroke-width="1.0">SERBIA</text><g transform="translate(64.2,845.83)" clip-path="url(#fc)"><rect x="-8" y="-8.00" width="16" height="8.05" fill="#4a7ccb"/><rect x="-8" y="0.00" width="16" height="8.05" fill="#e8505b"/><path d="M-8,-8L1.5,0L-8,8Z" fill="#f4f4f4"/><circle cx="-4" cy="0" r="1.2" fill="#f6c83a"/></g><text transform="translate(89.30,854.23) scale(0.64,1)" font-size="24.6" textLength="170.47" lengthAdjust="spacing" font-weight="700" fill="#262a28" stroke="#262a28" stroke-width="1.0">PHILIPPINES</text><g transform="translate(64.2,871.96)" clip-path="url(#fc)"><rect x="-8" y="-8" width="16" height="16" fill="#4a7ccb"/><path d="M-2,-8V8M-8,0H8" stroke="#f6c83a" stroke-width="2.6"/></g><text transform="translate(89.30,880.36) scale(0.64,1)" font-size="24.6" textLength="116.09" lengthAdjust="spacing" font-weight="700" fill="#262a28" stroke="#262a28" stroke-width="1.0">SWEDEN</text><g transform="translate(64.2,898.09)" clip-path="url(#fc)"><rect x="-8.00" y="-8" width="5.38" height="16" fill="#e8505b"/><rect x="-2.67" y="-8" width="5.38" height="16" fill="#f4f4f4"/><rect x="2.67" y="-8" width="5.38" height="16" fill="#e8505b"/></g><text transform="translate(89.30,906.49) scale(0.64,1)" font-size="24.6" textLength="72.81" lengthAdjust="spacing" font-weight="700" fill="#262a28" stroke="#262a28" stroke-width="1.0">PERU</text><text transform="translate(288.20,907.79) scale(0.72,1)" font-size="24.6" textLength="63.19" lengthAdjust="spacing" font-weight="700" fill="#ffffff" stroke="#ffffff" stroke-width="0.6">$0.12</text><g transform="translate(64.2,924.22)" clip-path="url(#fc)"><rect x="-8" y="-8" width="16" height="16" fill="#e8505b"/><circle cx="-1" cy="0" r="3.6" fill="#f4f4f4"/><circle cx="-0.1" cy="0" r="2.9" fill="#e8505b"/><circle cx="3.3" cy="0" r="1.1" fill="#f4f4f4"/></g><text transform="translate(89.30,932.62) scale(0.64,1)" font-size="24.6" textLength="108.91" lengthAdjust="spacing" font-weight="700" fill="#262a28" stroke="#262a28" stroke-width="1.0">TURKEY</text><text transform="translate(286.80,933.92) scale(0.72,1)" font-size="24.6" textLength="59.03" lengthAdjust="spacing" font-weight="700" fill="#ffffff" stroke="#ffffff" stroke-width="0.6">$0.11</text><g transform="translate(64.2,950.35)" clip-path="url(#fc)"><rect x="-8" y="-8" width="16" height="16" fill="#e8505b"/><rect x="-8" y="-8" width="6.5" height="16" fill="#5c9546"/><circle cx="-1.5" cy="0" r="2.6" fill="#f6c83a"/><circle cx="-1.5" cy="0" r="1.4" fill="#e8505b"/></g><text transform="translate(89.30,958.75) scale(0.64,1)" font-size="24.6" textLength="144.53" lengthAdjust="spacing" font-weight="700" fill="#262a28" stroke="#262a28" stroke-width="1.0">PORTUGAL</text><text transform="translate(283.50,960.05) scale(0.72,1)" font-size="24.6" textLength="63.19" lengthAdjust="spacing" font-weight="700" fill="#ffffff" stroke="#ffffff" stroke-width="0.6">$0.10</text><g transform="translate(64.2,976.48)" clip-path="url(#fc)"><rect x="-8" y="-8.00" width="16" height="2.34" fill="#e8505b"/><rect x="-8" y="-5.71" width="16" height="2.34" fill="#f4f4f4"/><rect x="-8" y="-3.43" width="16" height="2.34" fill="#e8505b"/><rect x="-8" y="-1.14" width="16" height="2.34" fill="#f4f4f4"/><rect x="-8" y="1.14" width="16" height="2.34" fill="#e8505b"/><rect x="-8" y="3.43" width="16" height="2.34" fill="#f4f4f4"/><rect x="-8" y="5.71" width="16" height="2.34" fill="#e8505b"/><rect x="-8" y="-8" width="8" height="8" fill="#4a7ccb"/><circle cx="-4" cy="-4" r="1.8" fill="#f6c83a"/></g><text transform="translate(89.30,984.88) scale(0.64,1)" font-size="24.6" textLength="136.72" lengthAdjust="spacing" font-weight="700" fill="#262a28" stroke="#262a28" stroke-width="1.0">MALAYSIA</text><text transform="translate(281.90,986.18) scale(0.72,1)" font-size="24.6" textLength="67.36" lengthAdjust="spacing" font-weight="700" fill="#ffffff" stroke="#ffffff" stroke-width="0.6">$0.09</text><g transform="translate(64.2,1002.61)" clip-path="url(#fc)"><rect x="-8" y="-8.00" width="16" height="5.38" fill="#e8505b"/><rect x="-8" y="-2.67" width="16" height="5.38" fill="#f4f4f4"/><rect x="-8" y="2.67" width="16" height="5.38" fill="#4a7ccb"/><rect x="-2.2" y="-3" width="4.4" height="5" fill="#e8505b" stroke="#f4f4f4" stroke-width="0.6"/></g><text transform="translate(89.30,1011.01) scale(0.64,1)" font-size="24.6" textLength="116.56" lengthAdjust="spacing" font-weight="700" fill="#262a28" stroke="#262a28" stroke-width="1.0">CROATIA</text><g transform="translate(64.2,1028.74)" clip-path="url(#fc)"><rect x="-8" y="-8.00" width="16" height="2.05" fill="#e8505b"/><rect x="-8" y="-6.00" width="16" height="2.05" fill="#f4f4f4"/><rect x="-8" y="-4.00" width="16" height="2.05" fill="#e8505b"/><rect x="-8" y="-2.00" width="16" height="2.05" fill="#f4f4f4"/><rect x="-8" y="0.00" width="16" height="2.05" fill="#e8505b"/><rect x="-8" y="2.00" width="16" height="2.05" fill="#f4f4f4"/><rect x="-8" y="4.00" width="16" height="2.05" fill="#e8505b"/><rect x="-8" y="6.00" width="16" height="2.05" fill="#f4f4f4"/><rect x="-8" y="-8" width="8.5" height="8" fill="#4a7ccb"/></g><text transform="translate(89.30,1037.14) scale(0.64,1)" font-size="24.6" textLength="53.12" lengthAdjust="spacing" font-weight="700" fill="#262a28" stroke="#262a28" stroke-width="1.0">U.S.</text><g transform="translate(64.2,1054.87)" clip-path="url(#fc)"><rect x="-8" y="-8.00" width="16" height="5.38" fill="#f4f4f4"/><rect x="-8" y="-2.67" width="16" height="5.38" fill="#72b04f"/><rect x="-8" y="2.67" width="16" height="5.38" fill="#e8505b"/></g><text transform="translate(89.30,1063.27) scale(0.64,1)" font-size="24.6" textLength="136.72" lengthAdjust="spacing" font-weight="700" fill="#262a28" stroke="#262a28" stroke-width="1.0">BULGARIA</text><g transform="translate(64.2,1081.00)" clip-path="url(#fc)"><rect x="-8" y="-8.00" width="16" height="5.38" fill="#f59a3b"/><rect x="-8" y="-2.67" width="16" height="5.38" fill="#f4f4f4"/><rect x="-8" y="2.67" width="16" height="5.38" fill="#72b04f"/><circle cx="0" cy="0" r="1.5" fill="#4a7ccb"/></g><text transform="translate(89.30,1089.40) scale(0.64,1)" font-size="24.6" textLength="74.22" lengthAdjust="spacing" font-weight="700" fill="#262a28" stroke="#262a28" stroke-width="1.0">INDIA</text><g transform="translate(64.2,1107.13)" clip-path="url(#fc)"><rect x="-8" y="-8" width="16" height="16" fill="#72b04f"/><path d="M-8,0L0,-5.5L8,0L0,5.5Z" fill="#f6c83a"/><circle cx="0" cy="0" r="3" fill="#4a7ccb"/><path d="M-3,-0.5Q0,-1 3,0.8" stroke="#f4f4f4" stroke-width="0.6" fill="none"/></g><text transform="translate(89.30,1115.53) scale(0.64,1)" font-size="24.6" textLength="96.09" lengthAdjust="spacing" font-weight="700" fill="#262a28" stroke="#262a28" stroke-width="1.0">BRAZIL</text><g transform="translate(64.2,1133.26)" clip-path="url(#fc)"><rect x="-8.00" y="-8" width="5.38" height="16" fill="#4a7ccb"/><rect x="-2.67" y="-8" width="5.38" height="16" fill="#f4f4f4"/><rect x="2.67" y="-8" width="5.38" height="16" fill="#e8505b"/></g><text transform="translate(89.30,1141.66) scale(0.64,1)" font-size="24.6" textLength="107.50" lengthAdjust="spacing" font-weight="700" fill="#262a28" stroke="#262a28" stroke-width="1.0">FRANCE</text><g transform="translate(64.2,1159.39)" clip-path="url(#fc)"><rect x="-8" y="-8" width="16" height="16" fill="#f4f4f4"/><circle cx="0" cy="0" r="3.3" fill="#e8505b"/></g><text transform="translate(89.30,1167.79) scale(0.64,1)" font-size="24.6" textLength="90.47" lengthAdjust="spacing" font-weight="700" fill="#262a28" stroke="#262a28" stroke-width="1.0">JAPAN</text><g transform="translate(64.2,1185.52)" clip-path="url(#fc)"><rect x="-8" y="-8.00" width="16" height="5.38" fill="#e8505b"/><rect x="-8" y="-2.67" width="16" height="5.38" fill="#f4f4f4"/><rect x="-8" y="2.67" width="16" height="5.38" fill="#72b04f"/></g><text transform="translate(89.30,1193.92) scale(0.64,1)" font-size="24.6" textLength="128.91" lengthAdjust="spacing" font-weight="700" fill="#262a28" stroke="#262a28" stroke-width="1.0">HUNGARY</text><g transform="translate(64.2,1211.65)" clip-path="url(#fc)"><rect x="-8" y="-8" width="16" height="16" fill="#f4f4f4"/><circle cx="0" cy="0" r="3.5" fill="#4a7ccb"/><path d="M-3.5,0A3.5,3.5 0 0 1 3.5,0Z" fill="#e8505b"/><path d="M-6,-4l2,-2M4,-6l2,2M-6,4l2,2M4,6l2,-2" stroke="#3a3a3a" stroke-width="1.2"/></g><text transform="translate(89.30,1220.05) scale(0.64,1)" font-size="24.6" textLength="190.47" lengthAdjust="spacing" font-weight="700" fill="#262a28" stroke="#262a28" stroke-width="1.0">SOUTH KOREA</text><g transform="translate(64.2,1237.78)" clip-path="url(#fc)"><rect x="-8" y="-8" width="16" height="16" fill="#e8505b"/><circle cx="-3" cy="-2.5" r="1.8" fill="#f6c83a"/><circle cx="0.5" cy="-5" r="0.6" fill="#f6c83a"/><circle cx="1.5" cy="-2.5" r="0.6" fill="#f6c83a"/><circle cx="1.5" cy="0.5" r="0.6" fill="#f6c83a"/></g><text transform="translate(89.30,1246.18) scale(0.64,1)" font-size="24.6" textLength="84.84" lengthAdjust="spacing" font-weight="700" fill="#262a28" stroke="#262a28" stroke-width="1.0">CHINA</text><g transform="translate(64.2,1263.91)" clip-path="url(#fc)"><rect x="-8" y="-8" width="16" height="16" fill="#e8505b"/><path d="M0,-4L1.2,-1.2L4,-1.2L1.8,0.6L2.6,3.5L0,1.8L-2.6,3.5L-1.8,0.6L-4,-1.2L-1.2,-1.2Z" fill="#f6c83a"/></g><text transform="translate(89.30,1272.31) scale(0.64,1)" font-size="24.6" textLength="123.44" lengthAdjust="spacing" font-weight="700" fill="#262a28" stroke="#262a28" stroke-width="1.0">VIETNAM</text><text transform="translate(271.90,1273.61) scale(0.72,1)" font-size="24.6" textLength="67.36" lengthAdjust="spacing" font-weight="700" fill="#ffffff" stroke="#ffffff" stroke-width="0.6">$0.04</text><g transform="translate(64.2,1290.04)" clip-path="url(#fc)"><rect x="-8" y="-8.00" width="16" height="8.05" fill="#f4f4f4"/><rect x="-8" y="0.00" width="16" height="8.05" fill="#e8505b"/><rect x="-8" y="-8" width="7" height="8" fill="#4a7ccb"/><circle cx="-4.5" cy="-4" r="1.2" fill="#f4f4f4"/></g><text transform="translate(89.30,1298.44) scale(0.64,1)" font-size="24.6" textLength="79.22" lengthAdjust="spacing" font-weight="700" fill="#262a28" stroke="#262a28" stroke-width="1.0">CHILE</text><g transform="translate(64.2,1316.17)" clip-path="url(#fc)"><rect x="-8" y="-8" width="16" height="8" fill="#f6c83a"/><rect x="-8" y="0" width="16" height="4" fill="#4a7ccb"/><rect x="-8" y="4" width="16" height="4" fill="#e8505b"/></g><text transform="translate(89.30,1324.57) scale(0.64,1)" font-size="24.6" textLength="137.66" lengthAdjust="spacing" font-weight="700" fill="#262a28" stroke="#262a28" stroke-width="1.0">COLOMBIA</text><g transform="translate(64.2,1342.30)" clip-path="url(#fc)"><rect x="-8" y="-8.00" width="16" height="8.05" fill="#f4f4f4"/><rect x="-8" y="0.00" width="16" height="8.05" fill="#e8505b"/></g><text transform="translate(89.30,1350.70) scale(0.64,1)" font-size="24.6" textLength="109.84" lengthAdjust="spacing" font-weight="700" fill="#262a28" stroke="#262a28" stroke-width="1.0">POLAND</text><g transform="translate(64.2,1368.43)" clip-path="url(#fc)"><rect x="-8" y="-8.00" width="16" height="5.38" fill="#6fb3e8"/><rect x="-8" y="-2.67" width="16" height="5.38" fill="#f4f4f4"/><rect x="-8" y="2.67" width="16" height="5.38" fill="#6fb3e8"/><circle cx="0" cy="0" r="1.3" fill="#f6c83a"/></g><text transform="translate(89.30,1376.83) scale(0.64,1)" font-size="24.6" textLength="158.12" lengthAdjust="spacing" font-weight="700" fill="#262a28" stroke="#262a28" stroke-width="1.0">ARGENTINA</text><g transform="translate(64.2,1394.56)" clip-path="url(#fc)"><rect x="-8" y="-8.00" width="16" height="8.05" fill="#e8505b"/><rect x="-8" y="0.00" width="16" height="8.05" fill="#f4f4f4"/><circle cx="-3.5" cy="-4" r="2.2" fill="#f4f4f4"/><circle cx="-2.8" cy="-4" r="1.9" fill="#e8505b"/></g><text transform="translate(89.30,1402.96) scale(0.64,1)" font-size="24.6" textLength="155.00" lengthAdjust="spacing" font-weight="700" fill="#262a28" stroke="#262a28" stroke-width="1.0">SINGAPORE</text><g transform="translate(64.2,1420.69)" clip-path="url(#fc)"><rect x="-8" y="-8.00" width="16" height="5.38" fill="#f4f4f4"/><rect x="-8" y="-2.67" width="16" height="5.38" fill="#4a7ccb"/><rect x="-8" y="2.67" width="16" height="5.38" fill="#e8505b"/></g><text transform="translate(89.30,1429.09) scale(0.64,1)" font-size="24.6" textLength="98.75" lengthAdjust="spacing" font-weight="700" fill="#262a28" stroke="#262a28" stroke-width="1.0">RUSSIA</text><g transform="translate(64.2,1446.82)" clip-path="url(#fc)"><rect x="-8" y="-8" width="16" height="16" fill="#e8505b"/><rect x="-8" y="-5.3" width="16" height="10.6" fill="#f4f4f4"/><rect x="-8" y="-2.7" width="16" height="5.4" fill="#4a7ccb"/></g><text transform="translate(89.30,1455.22) scale(0.64,1)" font-size="24.6" textLength="139.38" lengthAdjust="spacing" font-weight="700" fill="#262a28" stroke="#262a28" stroke-width="1.0">THAILAND</text><g transform="translate(64.2,1472.95)" clip-path="url(#fc)"><rect x="-8.00" y="-8" width="5.38" height="16" fill="#4a7ccb"/><rect x="-2.67" y="-8" width="5.38" height="16" fill="#f6c83a"/><rect x="2.67" y="-8" width="5.38" height="16" fill="#e8505b"/></g><text transform="translate(89.30,1481.35) scale(0.64,1)" font-size="24.6" textLength="123.75" lengthAdjust="spacing" font-weight="700" fill="#262a28" stroke="#262a28" stroke-width="1.0">ROMANIA</text><text transform="translate(267.25,1482.65) scale(0.72,1)" font-size="24.6" textLength="63.19" lengthAdjust="spacing" font-weight="700" fill="#ffffff" stroke="#ffffff" stroke-width="0.6">$0.01</text><path d="M336.0,366.75H359.7Q363.7,366.75 363.7,370.75V402.7M363.7,425.25V458.0Q363.7,462.0 359.7,462.0H336.0" fill="none" stroke="#cfcfcf" stroke-width="1.6"/><text transform="translate(339.00,422.00) scale(0.72,1)" font-size="24.6" textLength="67.36" lengthAdjust="spacing" font-weight="700" fill="#ffffff" stroke="#ffffff" stroke-width="0.6">$0.36</text><path d="M290.8,812.9H315.6Q319.6,812.9 319.6,816.9V830.7M319.6,860.5V875.3Q319.6,879.3 315.6,879.3H290.8" fill="none" stroke="#cfcfcf" stroke-width="1.6"/><text transform="translate(293.40,854.35) scale(0.72,1)" font-size="24.6" textLength="63.19" lengthAdjust="spacing" font-weight="700" fill="#ffffff" stroke="#ffffff" stroke-width="0.6">$0.14</text><path d="M280.0,995.9H305.3Q309.3,995.9 309.3,999.9V1026.3M309.3,1057.0V1083.7Q309.3,1087.7 305.3,1087.7H280.0" fill="none" stroke="#cfcfcf" stroke-width="1.6"/><text transform="translate(281.30,1050.35) scale(0.72,1)" font-size="24.6" textLength="67.36" lengthAdjust="spacing" font-weight="700" fill="#ffffff" stroke="#ffffff" stroke-width="0.6">$0.08</text><path d="M275.7,1104.0H301.3Q305.3,1104.0 305.3,1108.0V1133.7M305.3,1164.4V1191.1Q305.3,1195.1 301.3,1195.1H275.7" fill="none" stroke="#cfcfcf" stroke-width="1.6"/><text transform="translate(278.40,1157.75) scale(0.72,1)" font-size="24.6" textLength="67.36" lengthAdjust="spacing" font-weight="700" fill="#ffffff" stroke="#ffffff" stroke-width="0.6">$0.06</text><path d="M272.7,1200.9H297.4Q301.4,1200.9 301.4,1204.9V1210.5M301.4,1238.3V1243.9Q301.4,1247.9 297.4,1247.9H272.7" fill="none" stroke="#cfcfcf" stroke-width="1.6"/><text transform="translate(275.10,1232.65) scale(0.72,1)" font-size="24.6" textLength="67.36" lengthAdjust="spacing" font-weight="700" fill="#ffffff" stroke="#ffffff" stroke-width="0.6">$0.05</text><path d="M269.4,1282.7H294.2Q298.2,1282.7 298.2,1286.7V1325.3M298.2,1359.1V1397.5Q298.2,1401.5 294.2,1401.5H269.4" fill="none" stroke="#cfcfcf" stroke-width="1.6"/><text transform="translate(270.80,1350.65) scale(0.72,1)" font-size="24.6" textLength="67.36" lengthAdjust="spacing" font-weight="700" fill="#ffffff" stroke="#ffffff" stroke-width="0.6">$0.03</text><path d="M267.3,1410.2H292.7Q296.7,1410.2 296.7,1414.2V1419.5M296.7,1448.3V1453.6Q296.7,1457.6 292.7,1457.6H267.3" fill="none" stroke="#cfcfcf" stroke-width="1.6"/><text transform="translate(268.00,1441.95) scale(0.72,1)" font-size="24.6" textLength="67.36" lengthAdjust="spacing" font-weight="700" fill="#ffffff" stroke="#ffffff" stroke-width="0.6">$0.02</text><text transform="translate(1058.50,60.00) scale(0.72,1)" font-size="50.5" textLength="131.94" lengthAdjust="spacing" font-weight="700" fill="#1b2724" stroke="#1b2724" stroke-width="23.5" stroke-linejoin="round">$4.31</text><text transform="translate(1058.50,60.00) scale(0.72,1)" font-size="50.5" textLength="131.94" lengthAdjust="spacing" font-weight="700" fill="#10d8cd" stroke="#10d8cd" stroke-width="21" stroke-linejoin="round">$4.31</text><text transform="translate(1058.50,60.00) scale(0.72,1)" font-size="50.5" textLength="131.94" lengthAdjust="spacing" font-weight="700" fill="#ffffff" stroke="#ffffff" stroke-width="2">$4.31</text><text transform="translate(626.50,187.80) scale(0.95,1)" font-size="28" textLength="381.58" lengthAdjust="spacing" fill="#f2f2f2">The <tspan font-weight="700" stroke="#f2f2f2" stroke-width="0.9">UAE</tspan> only has two state</text><text transform="translate(634.20,223.50) scale(0.95,1)" font-size="28" textLength="364.74" lengthAdjust="spacing" fill="#f2f2f2">providers, resulting in the</text><text transform="translate(613.90,259.20) scale(0.95,1)" font-size="28" textLength="406.84" lengthAdjust="spacing" fill="#f2f2f2">world’s most expensive internet</text><path d="M959,160V134Q959,104 990,89L1043,66" fill="none" stroke="#f0f0f0" stroke-width="1.4"/><path d="M1047,65L1040.2,60.8L1042.2,66.6L1044.4,72.6Z" fill="#f0f0f0" stroke="#f0f0f0" stroke-width="0.8" stroke-linejoin="round"/><path d="M1102.4,159V80" stroke="#f0f0f0" stroke-width="1.4"/><path d="M1095.5,82L1102.4,76L1109.3,82Z" fill="#f0f0f0"/><text transform="translate(1056.50,195.00) scale(0.86,1)" font-size="34.5" textLength="106.98" lengthAdjust="spacing" font-weight="700" fill="#ffffff" stroke="#ffffff" stroke-width="1">PRICE</text><text transform="translate(1038.50,224.00) scale(0.78,1)" font-size="20.5" textLength="164.10" lengthAdjust="spacing" fill="#f0f0f0" stroke="#f0f0f0" stroke-width="0.3">(USD per Mbps)</text><g fill="none" stroke="#ffffff" stroke-width="7.6"><path d="M485,478.8H515M500,475V536"/><path d="M550.8,475V536M573.2,475V536M550.8,505.5H573.2"/><path d="M613.8,475V536M610,478.8H640M610,505H631M610,532.2H640"/><path d="M733.2,495V490.5A11.2,11.2 0 0 0 710.8,490.5V520.5A11.2,11.2 0 0 0 733.2,520.5V516"/><path d="M771.8,490.5A11.2,11.2 0 0 1 794.2,490.5V520.5A11.2,11.2 0 0 1 771.8,520.5Z"/><path d="M853,494V490A10.8,10.8 0 0 0 831.8,490V493C831.8,503 853.2,507 853.2,517V521A10.8,10.8 0 0 1 831.8,521V517"/><path d="M885,478.8H917M901,475V536"/><path d="M988.8,490.5A11.2,11.2 0 0 1 1011.2,490.5V520.5A11.2,11.2 0 0 1 988.8,520.5Z"/><path d="M1051.8,475V536M1048,478.8H1077M1048,506H1073"/></g><rect x="481" y="563" width="600" height="4" fill="#f4f4f4"/><rect x="481" y="951.5" width="600" height="4" fill="#f4f4f4"/><g fill="#ffffff"><rect x="478.8" y="589.2" width="36" height="224" rx="3"/><path d="M528,589.2H562L576.5,692.7V589.2H604.9Q607.9,589.2 607.9,592.2V806Q607.9,813.2 600,813.2H580Q574,813.2 572.7,807L554.8,698V813.2H522.5V595Q522.5,589.2 528,589.2Z"/><path d="M613.5,589.2H685.5V623.3H667.9V813.2H631.3V623.3H613.5Z"/><path d="M700,589.2H754V623.3H728.1V684H754V716.7H728.1V779.3H754V813.2H700Q691.9,813.2 691.9,805V597Q691.9,589.2 700,589.2Z"/><path d="M760.8,589.2H830Q842,589.2 842,601V690Q842,703 833,707Q842,711 842,724V813.2H805.2V723H796.7V813.2H760.8ZM796.7,622.4V689H805.2V622.4Z" fill-rule="evenodd"/><path d="M854,589.2H887.4L903,691.8V589.2H929.7Q932.7,589.2 932.7,592.2V806Q932.7,813.2 925,813.2H906Q900,813.2 898.5,807L880.9,699V813.2H849V595Q849,589.2 854,589.2Z"/><path d="M950,589.2H1003.5V622.4H978V684.7H1003.5V717.3H978V779.6H1003.5V813.2H950Q942.6,813.2 942.6,805V597Q942.6,589.2 950,589.2Z"/><path d="M1009.2,589.2H1081.4V622.4H1063V813.2H1027V622.4H1009.2Z"/></g><g fill="none" stroke="#ffffff" stroke-width="6.8"><path d="M482.3,856.4V917"/><path d="M521.4,917V856.4M546.1,917V856.4"/></g><path d="M518,856.4H525L549.5,917H542.5Z" fill="#ffffff"/><g fill="none" stroke="#ffffff" stroke-width="6.8"><path d="M619.8,871A11.2,11.2 0 0 1 642.1,870C642.1,880 637,887 619.8,913.6H645.5"/><path d="M676.4,871.2A11.35,11.35 0 0 1 699.1,871.2V902.2A11.35,11.35 0 0 1 676.4,902.2Z"/><path d="M734,871A11.2,11.2 0 0 1 756.4,870C756.4,880 751,887 734,913.6H759.8"/><path d="M815.3,859.8H791V887C795,883 799,882 803,882C809.5,882 811.9,887 811.9,893V903C811.9,910 808,913.6 802,913.6C796,913.6 792,910 791,905"/></g><defs><filter id="sh" x="-50%" y="-10%" width="200%" height="120%"><feGaussianBlur stdDeviation="2.8"/></filter><linearGradient id="ant" x1="0" x2="1"><stop offset="0" stop-color="#a2a2a0"/><stop offset="0.45" stop-color="#cacac8"/><stop offset="1" stop-color="#a8a8a6"/></linearGradient><radialGradient id="glow" cx="0.5" cy="0.5" r="0.5"><stop offset="0" stop-color="#3ddc6a" stop-opacity="0.75"/><stop offset="1" stop-color="#3ddc6a" stop-opacity="0"/></radialGradient><linearGradient id="front" x1="0" x2="0" y1="0" y2="1"><stop offset="0" stop-color="#e6e6e6"/><stop offset="1" stop-color="#d4d4d4"/></linearGradient><linearGradient id="topf" x1="0" x2="1" y1="0" y2="1"><stop offset="0" stop-color="#eeeeee"/><stop offset="1" stop-color="#f7f7f7"/></linearGradient></defs><path d="M937.2,674.5Q939.7,670 942.2,674.5L943.5,722L947.5,757L946.2,845H934.4L933.8,757L936,722Z" fill="#000" opacity="0.75" filter="url(#sh)" transform="translate(0,0)"/><path d="M1045.3,695Q1047.8,690.5 1050.3,695L1051,735L1053.7,763L1054.3,866H1042.5L1041.2,763L1044,735Z" fill="#000" opacity="0.75" filter="url(#sh)"/><path d="M937.2,674.5Q939.7,670 942.2,674.5L943.5,722L947.5,757L946.2,845H934.4L933.8,757L936,722Z" fill="url(#ant)"/><path d="M1045.3,695Q1047.8,690.5 1050.3,695L1051,735L1053.7,763L1054.3,866H1042.5L1041.2,763L1044,735Z" fill="url(#ant)"/><path d="M836,877L913,839.5L1086,871.6L1081.5,903L1018.5,934L842,897Z" fill="#000" opacity="0.45" filter="url(#sh)" transform="translate(0,1.5)"/><path d="M836,876.6L1016,916L1020,933.5L849,898Q842,896.5 840,891Z" fill="url(#front)"/><path d="M1014,916.6L1086,871.6L1081.8,901Q1081,905 1076,908L1021,933Q1018.5,934 1018.5,933.5Z" fill="#dadada"/><path d="M1026.0,926.8l1.6,-9" stroke="#aaaaaa" stroke-width="0.7"/><path d="M1029.5,925.0l1.6,-9" stroke="#aaaaaa" stroke-width="0.7"/><path d="M1033.0,923.2l1.6,-9" stroke="#aaaaaa" stroke-width="0.7"/><path d="M1036.5,921.5l1.6,-9" stroke="#aaaaaa" stroke-width="0.7"/><path d="M1040.0,919.8l1.6,-9" stroke="#aaaaaa" stroke-width="0.7"/><path d="M1043.5,918.0l1.6,-9" stroke="#aaaaaa" stroke-width="0.7"/><path d="M1047.0,916.2l1.6,-9" stroke="#aaaaaa" stroke-width="0.7"/><path d="M1050.5,914.5l1.6,-9" stroke="#aaaaaa" stroke-width="0.7"/><path d="M1054.0,912.8l1.6,-9" stroke="#aaaaaa" stroke-width="0.7"/><path d="M1057.5,911.0l1.6,-9" stroke="#aaaaaa" stroke-width="0.7"/><path d="M1061.0,909.2l1.6,-9" stroke="#aaaaaa" stroke-width="0.7"/><path d="M1064.5,907.5l1.6,-9" stroke="#aaaaaa" stroke-width="0.7"/><path d="M1068.0,905.8l1.6,-9" stroke="#aaaaaa" stroke-width="0.7"/><path d="M1071.5,904.0l1.6,-9" stroke="#aaaaaa" stroke-width="0.7"/><path d="M1075.0,902.2l1.6,-9" stroke="#aaaaaa" stroke-width="0.7"/><path d="M836,876.6L909,840.6Q913.4,838.6 918,839.5L1082,870.5Q1087.5,871.6 1085,873.5L1016,916Q1014,917 1012,916.6Z" fill="url(#topf)"/><ellipse cx="968" cy="890" rx="40" ry="26" fill="url(#glow)" opacity="0.55"/><path d="M887.0,880.4L890.0,878.8" stroke="#555" stroke-width="1.4"/><path d="M898.2,882.6L901.2,881.1" stroke="#555" stroke-width="1.4"/><path d="M909.5,884.9L912.5,883.3" stroke="#555" stroke-width="1.4"/><path d="M920.8,887.1L923.8,885.6" stroke="#555" stroke-width="1.4"/><path d="M932.0,889.4L935.0,887.8" stroke="#555" stroke-width="1.4"/><path d="M943.2,891.6L946.2,890.1" stroke="#555" stroke-width="1.4"/><path d="M954.5,893.9L957.5,892.3" stroke="#555" stroke-width="1.4"/><path d="M965.8,896.1L968.8,894.6" stroke="#555" stroke-width="1.4"/><circle cx="978.5" cy="897.6" r="1.6" fill="#39e86a"/><text transform="translate(479.00,1024.50) scale(0.7,1)" font-size="62" textLength="834.29" lengthAdjust="spacing" font-weight="700" fill="#ffffff">Median price per Mb/s of</text><text transform="translate(479.00,1093.00) scale(0.7,1)" font-size="62" textLength="844.29" lengthAdjust="spacing" font-weight="700" fill="#ffffff">fixed broadband bandwidth</text><text transform="translate(409.30,1399.00) scale(0.66,1)" font-size="19.5" textLength="984.09" lengthAdjust="spacing" fill="#9c9c9c">As of February 2025. Figures represent the median price per megabit per second of fixed internet</text><text transform="translate(448.70,1421.70) scale(0.66,1)" font-size="19.5" textLength="924.24" lengthAdjust="spacing" fill="#9c9c9c">bandwidth per month. Values translated from local currencies into U.S. dollar equivalents by</text><text transform="translate(482.70,1445.80) scale(0.66,1)" font-size="19.5" textLength="872.73" lengthAdjust="spacing" fill="#9c9c9c">Cable.co.uk using the prevailing exchange rates at the time of source data publication.</text><text transform="translate(827.70,1469.30) scale(0.66,1)" font-size="19.5" textLength="350.00" lengthAdjust="spacing" fill="#9c9c9c"><tspan font-weight="700">Source:</tspan> Cable.co.uk, We Are Social</text><path d="M1079,1442L1095,1421Q1100,1416 1106,1417.5L1115,1421.5L1124,1417.5Q1130,1416 1135,1421L1151,1442Z" fill="#a8a8a8"/><circle cx="1095.5" cy="1456" r="19.5" fill="#2b2b2b"/><circle cx="1134.5" cy="1456" r="19.5" fill="#2b2b2b"/><circle cx="1095.5" cy="1456" r="20.9" fill="none" stroke="#a8a8a8" stroke-width="3.6"/><circle cx="1134.5" cy="1456" r="20.9" fill="none" stroke="#a8a8a8" stroke-width="3.6"/><path d="M1095,1473Q1091,1462 1096,1453Q1103,1445 1116,1445.5Q1122,1445.8 1125,1446.5L1128.5,1443.5L1130,1449Q1137,1452 1139,1456Q1143,1457 1143,1463Q1143,1469 1138,1471L1135,1475Q1125,1478 1115,1476Q1105,1478 1095,1473Z" fill="#a8a8a8"/><path d="M1110.5,1449.5Q1115,1447.5 1120.5,1449.5" stroke="#2d2d2d" stroke-width="1" fill="none"/><text x="1086" y="1464" font-size="7" font-weight="700" fill="#a8a8a8">$$</text><rect x="0" y="1499" width="1200" height="65" fill="#3fa57e"/><path d="M47.8,1512.4L84.4,1512.8L84.8,1517.5L72.6,1540.5Q71,1543.2 68,1543.2H63.2Q60.5,1543.2 59.2,1540.6L47,1516.5Z" fill="#ffffff" stroke="#ffffff" stroke-width="2.6" stroke-linejoin="round"/><path d="M49.5,1513.1L66,1513.1L58.3,1519L48.6,1514.6Z" fill="#e3b21f"/><path d="M48.2,1516.1L57.6,1520.4L62,1528.8L58.8,1535.6Z" fill="#66addf"/><path d="M67.8,1513.1L82.6,1513.4L83.4,1517.4L81,1521L63.3,1527.6L59.3,1519.6Z" fill="#93c83a"/><path d="M69.6,1528L80.6,1523.5L74.3,1533.6Z" fill="#35b458"/><path d="M63.8,1529.3L68.5,1528.7L73.5,1535.1L69.6,1541.6L61.5,1541.6L59.7,1537.6Z" fill="#0f9572"/><text x="91" y="1538" font-size="34" fill="#ffffff" stroke="#ffffff" stroke-width="1.3" textLength="119" lengthAdjust="spacingAndGlyphs">voronoi</text><text x="98" y="1553" font-size="8.5" font-weight="700" fill="#ffffff" textLength="112" lengthAdjust="spacingAndGlyphs">BY VISUAL CAPITALIST</text><rect x="234.5" y="1514" width="1.2" height="36" fill="#7cc3a8"/><text x="256" y="1538" font-size="19" fill="#ffffff" textLength="240" lengthAdjust="spacingAndGlyphs">Where Data Tells the Story</text><rect x="911.5" y="1512" width="118.5" height="40" rx="6" fill="#0c0c1e"/><rect x="1048" y="1512" width="118" height="40" rx="6" fill="#0c0c1e"/><path transform="translate(-4,0)" d="M933,1523Q935,1520 937,1519Q937,1522 935,1524Q933,1525 933,1523ZM929,1527Q931,1525 934,1526Q936,1527 938,1526Q941,1525 943,1528Q940,1530 940,1533Q941,1537 944,1538Q942,1543 939,1544Q937,1545 935,1544Q933,1543 931,1544Q928,1545 926,1541Q923,1535 925,1531Q926,1527 929,1527Z" fill="#ffffff"/><text x="946" y="1528" font-size="9.5" fill="#ffffff" textLength="70" lengthAdjust="spacingAndGlyphs">Download on the</text><text x="945" y="1544" font-size="19" fill="#ffffff" textLength="76" lengthAdjust="spacingAndGlyphs">App Store</text><path d="M1056,1520L1077,1532L1056,1544Z" fill="#37b3e8"/><path d="M1056,1520L1070,1528L1066,1532Z" fill="#39c07a"/><path d="M1056,1544L1070,1536L1066,1532Z" fill="#e8414b"/><path d="M1070,1528L1077,1532L1070,1536L1066,1532Z" fill="#f7c12e"/><text x="1084" y="1527" font-size="9.5" fill="#ffffff" textLength="35" lengthAdjust="spacingAndGlyphs">GET IT ON</text><text x="1083" y="1544" font-size="19" fill="#ffffff" textLength="76" lengthAdjust="spacingAndGlyphs">Google Play</text></svg></body></html>
